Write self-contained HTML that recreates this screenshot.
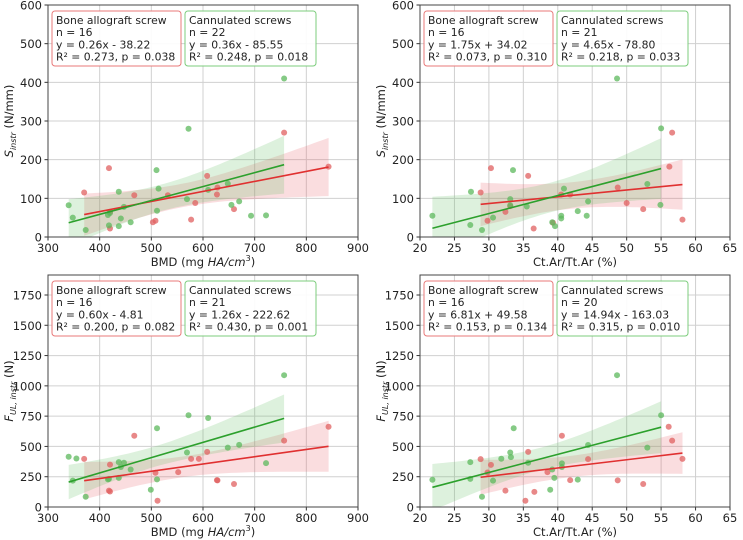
<!DOCTYPE html>
<html><head><meta charset="utf-8"><style>
body{margin:0;background:#fff;}
svg{display:block;font-family:"DejaVu Sans","Liberation Sans",sans-serif;}
</style></head><body>
<svg id="c" width="743" height="540" viewBox="0 0 743 540" xmlns="http://www.w3.org/2000/svg"></svg>
<script>
const bmdTicks=[300,400,500,600,700,800,900];
const ctTicks=[20,25,30,35,40,45,50,55,60,65];
const sTicks=[0,100,200,300,400,500,600];
const fTicks=[0,250,500,750,1000,1250,1500,1750];

const p1RedX=[370,418,420,420,467,503,508,532,577,585,608,627,628,660,757,843];
const p1RedY=[115,178,22,65,108,38,42,108,45,88,158,110,128,72,270,182];
const p1GreenX=[340,348,373,416,418,420,437,437,441,447,460,510,511,514,569,572,610,648,655,670,693,722,757];
const p1GreenY=[82,50,18,57,30,62,117,28,48,78,38,173,68,125,98,280,122,138,83,92,55,56,410];

const p2RedX=[28.8,29.8,30.3,32.4,33.1,35.7,36.5,39.3,40.5,41.8,48.7,50,52.4,56.2,56.6,58.1];
const p2RedY=[115,42,178,65,80,158,22,37,110,110,128,88,72,182,270,45];
const p2GreenX=[21.8,27.3,27.4,29,30.6,33.1,33.1,33.5,35.5,39.2,39.6,40.5,40.5,40.9,42.9,44.2,44.4,48.6,53,55,54.9];
const p2GreenY=[55,31,117,18,50,98,82,173,79,38,28,55,48,125,67,55,92,410,137,281,83];

const p3RedX=[370,418,420,420,467,508,512,552,577,592,608,627,628,660,757,843];
const p3RedY=[397,135,128,350,588,283,52,288,397,397,455,222,220,190,548,662];
const p3GreenX=[340,348,355,373,416,418,437,437,441,447,460,499,511,511,569,572,610,648,670,722,757];
const p3GreenY=[415,218,400,85,228,232,370,240,330,365,310,142,650,228,450,757,735,490,513,362,1088];

const p4RedX=[28.8,29.8,30.3,32.4,35.3,35.7,36.6,38.5,40.6,41.8,44.4,48.7,52.4,56.1,56.6,58.1];
const p4RedY=[395,285,348,135,52,455,125,288,588,222,395,220,190,662,548,397];
const p4GreenX=[21.8,27.3,27.3,29,30.6,31.8,33.1,33.2,33.6,35.7,38.9,39.2,39.5,40.6,40.6,42.9,44.4,48.6,53,55];
const p4GreenY=[225,370,232,85,218,398,450,412,650,365,142,310,240,360,330,226,512,1088,490,757];

const coefs=[[0.26,-38.22,0.36,-85.55],[1.75,34.02,4.65,-78.80],[0.60,-4.81,1.26,-222.62],[6.81,49.58,14.94,-163.03]];
const texts=[
 [["Bone allograft screw","n = 16","y = 0.26x - 38.22","R² = 0.273, p = 0.038"],["Cannulated screws","n = 22","y = 0.36x - 85.55","R² = 0.248, p = 0.018"]],
 [["Bone allograft screw","n = 16","y = 1.75x + 34.02","R² = 0.073, p = 0.310"],["Cannulated screws","n = 21","y = 4.65x - 78.80","R² = 0.218, p = 0.033"]],
 [["Bone allograft screw","n = 16","y = 0.60x - 4.81","R² = 0.200, p = 0.082"],["Cannulated screws","n = 21","y = 1.26x - 222.62","R² = 0.430, p = 0.001"]],
 [["Bone allograft screw","n = 16","y = 6.81x + 49.58","R² = 0.153, p = 0.134"],["Cannulated screws","n = 20","y = 14.94x - 163.03","R² = 0.315, p = 0.010"]]
];

const NS="http://www.w3.org/2000/svg";
const svg=document.getElementById('c');
function mk(tag,attrs,parent){const e=document.createElementNS(NS,tag);for(const k in attrs)e.setAttribute(k,attrs[k]);(parent||svg).appendChild(e);return e;}

const panels=[
 {L:48,R:358,T:5,B:237,xmin:300,xmax:900,ymin:0,ymax:600,xt:bmdTicks,yt:sTicks,rx:p1RedX,ry:p1RedY,gx:p1GreenX,gy:p1GreenY,xl:"bmd",yl:"s"},
 {L:420,R:730,T:5,B:237,xmin:20,xmax:65,ymin:0,ymax:600,xt:ctTicks,yt:sTicks,rx:p2RedX,ry:p2RedY,gx:p2GreenX,gy:p2GreenY,xl:"ct",yl:"s"},
 {L:48,R:358,T:275,B:507,xmin:300,xmax:900,ymin:0,ymax:1915,xt:bmdTicks,yt:fTicks,rx:p3RedX,ry:p3RedY,gx:p3GreenX,gy:p3GreenY,xl:"bmd",yl:"f"},
 {L:420,R:730,T:275,B:507,xmin:20,xmax:65,ymin:0,ymax:1915,xt:ctTicks,yt:fTicks,rx:p4RedX,ry:p4RedY,gx:p4GreenX,gy:p4GreenY,xl:"ct",yl:"f"}
];

panels.forEach((p,i)=>{
 const g=mk('g',{});
 
 
 const X=v=>p.L+(v-p.xmin)/(p.xmax-p.xmin)*(p.R-p.L);
 const Y=v=>p.B-(v-p.ymin)/(p.ymax-p.ymin)*(p.B-p.T);
 p.xt.forEach(t=>{
  const gl=mk('line',{x1:X(t),x2:X(t),y1:p.T,y2:p.B,stroke:'#d0d0d0','stroke-width':1},g);
  
  mk('line',{x1:X(t),x2:X(t),y1:p.B,y2:p.B+3.5,stroke:'#333'},g);
  const tx=mk('text',{x:X(t),y:p.B+15,'text-anchor':'middle','font-size':11.5,fill:'#222'},g);
  tx.textContent=t;
 });
 p.yt.forEach(t=>{
  const gl=mk('line',{x1:p.L,x2:p.R,y1:Y(t),y2:Y(t),stroke:'#d0d0d0','stroke-width':1},g);
  
  mk('line',{x1:p.L-3.5,x2:p.L,y1:Y(t),y2:Y(t),stroke:'#333'},g);
  const tx=mk('text',{x:p.L-6,y:Y(t)+4.5,'text-anchor':'end','font-size':11.5,fill:'#222'},g);
  tx.textContent=t;
 });
 const groups=[[p.rx,p.ry,coefs[i][0],coefs[i][1],'#e03030','rgba(230,100,110,0.22)','#e06060','red'],[p.gx,p.gy,coefs[i][2],coefs[i][3],'#2ca02c','rgba(100,190,100,0.22)','#5cb85c','green']];
 groups.forEach(([xs,ys,m,b,lc,bc,pc,nm])=>{
  const n=xs.length,xm=xs.reduce((a,c)=>a+c,0)/n;
  let sxx=0,sse=0;xs.forEach((x,k)=>{sxx+=(x-xm)**2;sse+=(ys[k]-(m*x+b))**2;});
  const s=Math.sqrt(sse/(n-2)),t=2.1;
  const x0=Math.min(...xs),x1=Math.max(...xs),N=40;let up=[],dn=[];
  for(let k=0;k<=N;k++){const x=x0+(x1-x0)*k/N,y=m*x+b,h=t*s*Math.sqrt(1/n+(x-xm)**2/sxx);
   up.push(X(x).toFixed(1)+','+Y(y+h).toFixed(1));dn.unshift(X(x).toFixed(1)+','+Y(Math.max(y-h,p.ymin)).toFixed(1));}
  const bd=mk('polygon',{points:up.concat(dn).join(' '),fill:bc},g);
  
 });
 groups.forEach(([xs,ys,m,b,lc,bc,pc,nm])=>{
  xs.forEach((x,k)=>{const c=mk('circle',{cx:X(x),cy:Y(ys[k]),r:3,fill:pc,'fill-opacity':0.75},g);
   });
 });
 groups.forEach(([xs,ys,m,b,lc,bc,pc,nm])=>{
  const x0=Math.min(...xs),x1=Math.max(...xs);
  const ln=mk('line',{x1:X(x0),y1:Y(m*x0+b),x2:X(x1),y2:Y(m*x1+b),stroke:lc,'stroke-width':1.6},g);
  
 });
 const fr=mk('rect',{x:p.L,y:p.T,width:p.R-p.L,height:p.B-p.T,fill:'none',stroke:'#444','stroke-width':1},g);
 
 const bx=[p.L+4,p.L+137],bw=[130,131];
 [0,1].forEach(j=>{
  const bg=mk('g',{},g);
  
  
  mk('rect',{x:bx[j],y:p.T+6,width:bw[j]-(j?0:1),height:55,rx:3,fill:'#fff','fill-opacity':0.9,stroke:j?'#7ccc7c':'#e87a7a','stroke-width':1},bg);
  texts[i][j].forEach((s,k)=>{const t=mk('text',{x:bx[j]+4,y:p.T+19+k*12.2,'font-size':10.8,fill:'#222'},bg);t.textContent=s;});
 });
 const xlab=mk('text',{x:(p.L+p.R)/2,y:p.B+29,'text-anchor':'middle','font-size':11.5,fill:'#222'},g);
 
 if(p.xl==='bmd'){xlab.innerHTML='BMD (mg <tspan font-style="italic">HA/cm</tspan><tspan font-size="8" dy="-5">3</tspan><tspan dy="5">)</tspan>';}
 else xlab.textContent='Ct.Ar/Tt.Ar (%)';
 const cy=(p.T+p.B)/2,lx=p.L-35;
 const ylab=mk('text',{x:lx,y:cy,'text-anchor':'middle','font-size':11.5,fill:'#222',transform:`rotate(-90 ${lx} ${cy})`},g);
 
 if(p.yl==='s')ylab.innerHTML='<tspan font-style="italic">S</tspan><tspan font-style="italic" font-size="8" dy="3">instr</tspan><tspan dy="-3"> (N/mm)</tspan>';
 else ylab.innerHTML='<tspan font-style="italic">F</tspan><tspan font-style="italic" font-size="8" dy="3">UL, instr</tspan><tspan dy="-3"> (N)</tspan>';
});
</script>
</body></html>
